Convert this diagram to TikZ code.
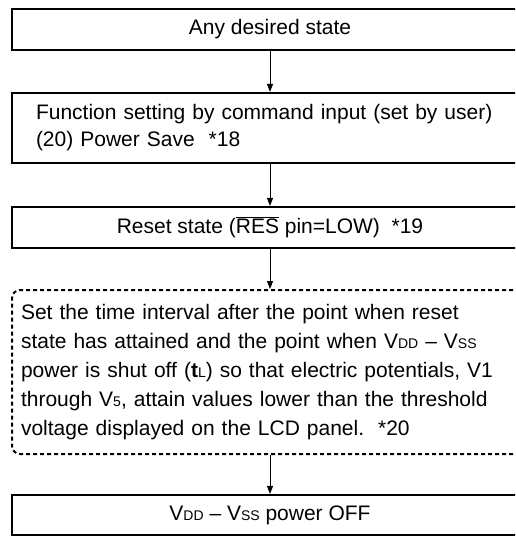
\documentclass[tikz,border=0pt]{standalone}
\usepackage{fontspec}
\setmainfont{Liberation Sans}
\usetikzlibrary{arrows.meta,positioning}

\newcommand{\smallsub}[1]{{\fontsize{14}{14}\selectfont #1}}

\tikzset{
  stepbox/.style={draw, line width=2.2pt, minimum width=516pt, minimum height=41pt,
    inner sep=0pt, font=\fontsize{21}{27}\selectfont},
  notebox/.style={draw, line width=2pt, dash pattern=on 4pt off 3pt, rounded corners=8pt,
    minimum width=516pt, minimum height=164pt, inner sep=0pt, font=\fontsize{21}{29}\selectfont},
  flow/.style={line width=0.9pt, -{Triangle[length=8pt,width=6pt]}}
}

\begin{document}
\begin{tikzpicture}[x=1pt,y=-1pt]
    % Page frame (the boxes run off the right edge)
    \useasboundingbox (0,0) rectangle (515,537);
    \clip (0,0) rectangle (515,537);

    % Flow steps
    \node[stepbox] (any) at (270,29.5) {Any desired state};
    \node[stepbox, minimum height=70pt, text width=468pt, align=left] (func) at (270,128)
        {Function setting by command input (set by user)\\(20) Power Save\ \ *18};
    \node[stepbox] (reset) at (270,227.5) {Reset state ($\overline{\mbox{RES}}$ pin=LOW)\ \ *19};
    \node[notebox, text width=498pt, align=left] (wait) at (270,372)
        {Set the time interval after the point when reset\\
         state has attained and the point when V\smallsub{DD} -- V\smallsub{SS}\\
         power is shut off (\textbf{t}\smallsub{L}) so that electric potentials, V1\\
         through V\smallsub{5}, attain values lower than the threshold\\
         voltage displayed on the LCD panel.\ \ *20};
    \node[stepbox, minimum height=40pt] (off) at (270,515) {V\smallsub{DD} -- V\smallsub{SS} power OFF};

    % Connectors
    \draw[flow] (any) -- (func);
    \draw[flow] (func) -- (reset);
    \draw[flow] (reset) -- (wait);
    \draw[flow] (wait) -- (off);
\end{tikzpicture}
\end{document}
